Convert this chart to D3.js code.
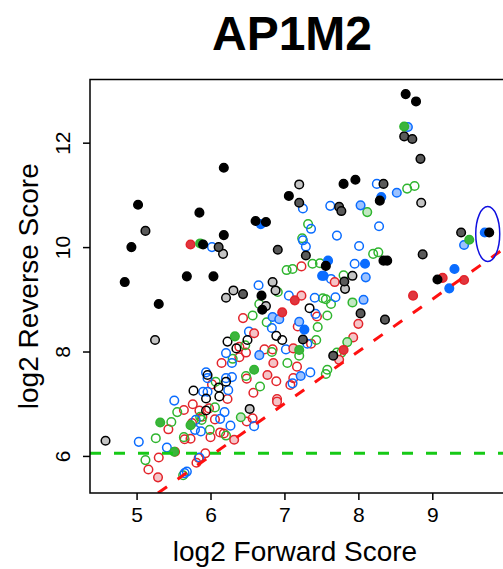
<!DOCTYPE html>
<html>
<head>
<meta charset="utf-8">
<script src="https://cdn.jsdelivr.net/npm/d3@7"></script>
<style>
  html, body { margin: 0; padding: 0; background: #fff; }
  svg { display: block; font-family: "Liberation Sans", Arial, Helvetica, sans-serif; }
</style>
</head>
<body>
<div id="chart"></div>
<script>
// Point values, grouped by marker style
const blackFilled = [[8.64,12.93],[8.78,12.79],[6.18,11.52],[5.02,10.81],[4.93,10.0],[4.84,9.33],[5.30,8.91],
  [5.85,10.66],[5.90,10.05],[6.18,10.23],[5.68,9.44],[6.04,9.44],[6.61,10.50],[6.75,10.48],[7.06,10.98],
  [7.80,11.21],[7.96,11.29],[8.29,10.89],[8.34,9.74],[8.39,9.74],[9.77,10.28],[9.07,9.38],[7.56,9.64],
  [6.69,9.07],[6.70,8.80]];
const darkGray = [[5.12,10.31],[6.11,10.00],[6.44,9.10],[7.20,10.85],[6.91,9.95],[7.29,9.84],[8.34,11.21],
  [7.74,10.77],[7.77,10.69],[8.62,12.12],[8.73,12.07],[8.84,11.69],[8.87,9.86],[8.36,8.61],[8.03,8.73],
  [7.81,9.34],[7.25,8.23],[7.66,7.92],[9.39,10.28]];
const lightGray = [[5.25,8.22],[4.58,6.29],[6.17,9.87],[6.31,9.17],[6.21,9.03],[7.20,11.20],[8.85,10.85],
  [7.92,9.45],[7.82,9.20],[6.84,9.33],[6.88,9.17],[6.75,8.87],[6.53,6.90]];
const blackOpen = [[7.34,8.83],[6.23,8.19],[6.35,8.06],[6.50,8.22],[6.89,8.30],[6.97,8.22],[5.96,7.55],
  [5.77,7.25],[6.11,7.31],[6.21,7.42],[6.12,7.14],[5.94,7.10],[5.94,6.87]];
const blueFilled = [[6.68,10.44],[8.31,10.96],[9.71,10.28],[9.30,9.58],[9.23,9.21],[7.59,9.74],[7.51,9.45],
  [7.53,9.45],[7.27,8.42],[8.09,9.68]];
const blueLight = [[9.43,10.04],[8.10,9.42],[8.07,8.99],[6.66,7.93],[7.22,7.53],[8.52,11.04],[8.03,10.80],
  [8.67,12.30],[7.20,8.57],[6.84,8.66],[6.93,8.62]];
const blueOpen = [[7.25,10.74],[8.25,11.21],[6.02,10.00],[7.62,10.79],[7.36,10.35],[8.28,10.40],[7.71,10.22],
  [7.25,10.13],[7.29,10.01],[8.01,10.02],[7.95,9.68],[7.63,9.39],[6.65,9.27],[7.06,9.07],[7.41,9.03],
  [7.69,9.04],[7.42,8.72],[6.83,8.45],[6.52,8.38],[7.31,8.15],[6.21,7.97],[6.29,7.78],[7.02,8.04],
  [7.35,7.60],[7.11,7.39],[5.94,7.60],[5.96,7.49],[5.90,7.23],[5.96,7.23],[6.21,7.49],[6.29,7.51],
  [6.24,7.26],[6.19,6.84],[6.27,6.58],[6.59,6.57],[5.51,7.06],[5.03,6.27],[5.41,6.16],[5.68,5.70],
  [5.65,5.67],[5.85,5.97],[5.79,6.50],[5.80,6.69],[5.87,6.47],[6.13,6.71]];
const redFilled = [[5.73,10.05],[9.14,9.41],[9.43,9.37],[8.74,9.07],[7.14,8.98],[6.97,8.75],[7.80,8.03]];
const redLight = [[7.68,9.33],[7.23,9.07],[6.59,8.35],[7.93,8.27],[8.00,8.53],[7.12,8.06],[7.74,7.84],
  [6.85,7.78],[6.77,7.55],[6.32,6.31],[5.29,5.59],[6.90,7.04],[5.52,6.08]];
const redOpen = [[7.23,9.63],[6.44,8.64],[7.44,8.67],[7.18,8.48],[7.36,8.15],[6.39,8.09],[6.15,7.78],
  [6.48,7.98],[6.39,7.89],[6.73,8.04],[6.84,8.04],[7.17,7.71],[7.12,7.49],[7.08,7.36],[6.89,7.43],
  [6.90,7.09],[6.58,7.21],[6.49,7.48],[6.57,6.72],[6.49,6.66],[6.18,6.43],[6.13,6.45],[6.23,7.09],
  [6.02,7.37],[5.76,6.99],[5.64,6.88],[5.43,6.51],[5.30,5.97],[5.16,5.74],[5.81,5.87],[5.84,5.96],
  [5.93,6.05],[5.65,6.32],[5.73,6.33],[5.75,6.63],[5.85,6.87],[5.89,6.75],[6.00,6.36],[6.06,6.70],
  [5.98,6.91]];
const greenFilled = [[8.62,12.31],[5.86,10.07],[9.50,10.14],[6.33,8.29],[7.20,8.03],[6.59,7.65],[5.32,6.64],
  [5.51,6.08],[5.73,6.59]];
const greenLight = [[7.85,8.18],[6.41,6.74],[7.92,8.94],[8.12,10.67]];
const greenOpen = [[8.66,11.12],[8.76,11.17],[7.32,10.44],[7.24,10.17],[8.20,9.87],[8.27,9.90],[7.80,9.46],
  [7.38,9.68],[7.48,9.69],[7.03,9.56],[7.11,9.58],[6.91,9.14],[7.52,9.02],[7.56,9.00],[7.63,8.91],
  [6.66,8.91],[6.57,8.69],[7.58,8.69],[7.45,8.47],[6.76,8.56],[7.43,8.22],[6.47,8.12],[6.30,7.86],
  [6.83,7.99],[7.20,7.92],[7.71,7.98],[7.77,7.98],[7.04,7.78],[7.58,7.65],[7.56,7.57],[6.48,7.53],
  [6.67,7.33],[6.07,7.42],[6.21,6.39],[5.55,6.84],[5.47,6.65],[5.26,6.34],[5.12,5.92],[5.63,5.63],
  [5.64,6.36],[5.88,6.69],[5.99,6.50],[6.06,6.93],[5.86,6.75]];

const xTicks = [5, 6, 7, 8, 9];
const yTicks = [6, 8, 10, 12];
const thresholdY = 6.05;          // green dashed cut-off
const highlight = [9.75, 10.25];  // ringed gene

const width = 503, height = 569;
const plot = { left: 90, top: 79.5, right: 504, bottom: 493 };

const svg = d3.select("#chart").append("svg")
  .attr("width", width)
  .attr("height", height);

const x = d3.scaleLinear().domain([4.37, 9.97]).range([plot.left, plot.right]);
const y = d3.scaleLinear().domain([5.29, 13.21]).range([plot.bottom, plot.top]);

svg.append("clipPath").attr("id", "clip")
  .append("rect")
  .attr("x", plot.left).attr("y", plot.top)
  .attr("width", plot.right - plot.left).attr("height", plot.bottom - plot.top);

const blue = "#0a6cff", red = "#e3242b", green = "#2fb52f";
const groups = [
  { data: redOpen, fill: "none", stroke: red },
  { data: greenOpen, fill: "none", stroke: green },
  { data: blueOpen, fill: "none", stroke: blue },
  { data: blackOpen, fill: "none", stroke: "#000" },
  { data: redLight, fill: "#f5c4c7", stroke: red },
  { data: greenLight, fill: "#c2e8c2", stroke: green },
  { data: blueLight, fill: "#9cc2ff", stroke: blue },
  { data: lightGray, fill: "#c4c4c4", stroke: "#000" },
  { data: darkGray, fill: "#5a5a5a", stroke: "#000" },
  { data: redFilled, fill: "#e0363e", stroke: red },
  { data: greenFilled, fill: "#3cb43c", stroke: green },
  { data: blueFilled, fill: blue, stroke: blue },
  { data: blackFilled, fill: "#000", stroke: "#000" }
];

const pts = svg.append("g").attr("clip-path", "url(#clip)");
groups.forEach(g => {
  pts.selectAll(null)
    .data(g.data)
    .join("circle")
    .attr("cx", d => x(d[0]))
    .attr("cy", d => y(d[1]))
    .attr("r", 4.3)
    .attr("fill", g.fill)
    .attr("stroke", g.stroke)
    .attr("stroke-width", 1.5);
});

// reference lines
const lines = svg.append("g").attr("clip-path", "url(#clip)");
lines.append("line")
  .attr("x1", x(4.37)).attr("x2", x(9.97))
  .attr("y1", y(thresholdY)).attr("y2", y(thresholdY))
  .attr("stroke", "#16c916").attr("stroke-width", 3)
  .attr("stroke-dasharray", "11,13");

lines.append("line")
  .attr("x1", x(5.29)).attr("y1", y(5.29))
  .attr("x2", x(9.97)).attr("y2", y(9.97))
  .attr("stroke", "#ff1010").attr("stroke-width", 3)
  .attr("stroke-dasharray", "11,13");

lines.append("ellipse")
  .attr("cx", x(highlight[0])).attr("cy", y(highlight[1]))
  .attr("rx", 12).attr("ry", 27.5)
  .attr("fill", "none").attr("stroke", "#1010e0").attr("stroke-width", 1.5);

// box
svg.append("rect")
  .attr("x", plot.left).attr("y", plot.top)
  .attr("width", plot.right - plot.left).attr("height", plot.bottom - plot.top)
  .attr("fill", "none").attr("stroke", "#000").attr("stroke-width", 1.5);

// axes
const xAxis = svg.append("g")
  .attr("transform", `translate(0,${plot.bottom})`)
  .call(d3.axisBottom(x).tickValues(xTicks).tickSize(7).tickPadding(6).tickFormat(d3.format("d")));
const yAxis = svg.append("g")
  .attr("transform", `translate(${plot.left},0)`)
  .call(d3.axisLeft(y).tickValues(yTicks).tickSize(7).tickPadding(4).tickFormat(d3.format("d")));

svg.selectAll(".domain").remove();
svg.selectAll(".tick line").attr("stroke", "#000").attr("stroke-width", 1.5);
svg.selectAll(".tick text")
  .style("font-size", "21px")
  .style("font-family", "Liberation Sans, Arial, sans-serif")
  .attr("fill", "#000");

xAxis.selectAll(".tick text").attr("dy", "0.75em");
yAxis.selectAll(".tick text")
  .attr("text-anchor", "middle")
  .attr("x", 0).attr("dy", 0)
  .attr("transform", "translate(-20,0) rotate(-90)");

// labels
svg.append("text")
  .attr("x", 292).attr("y", 50)
  .attr("text-anchor", "middle")
  .style("font-size", "48px").style("font-weight", "bold")
  .text("AP1M2");

svg.append("text")
  .attr("x", 295).attr("y", 561)
  .attr("text-anchor", "middle")
  .style("font-size", "28px")
  .text("log2 Forward Score");

svg.append("text")
  .attr("transform", `translate(38,${(plot.top + plot.bottom) / 2}) rotate(-90)`)
  .attr("text-anchor", "middle")
  .style("font-size", "28px")
  .text("log2 Reverse Score");
</script>
</body>
</html>
